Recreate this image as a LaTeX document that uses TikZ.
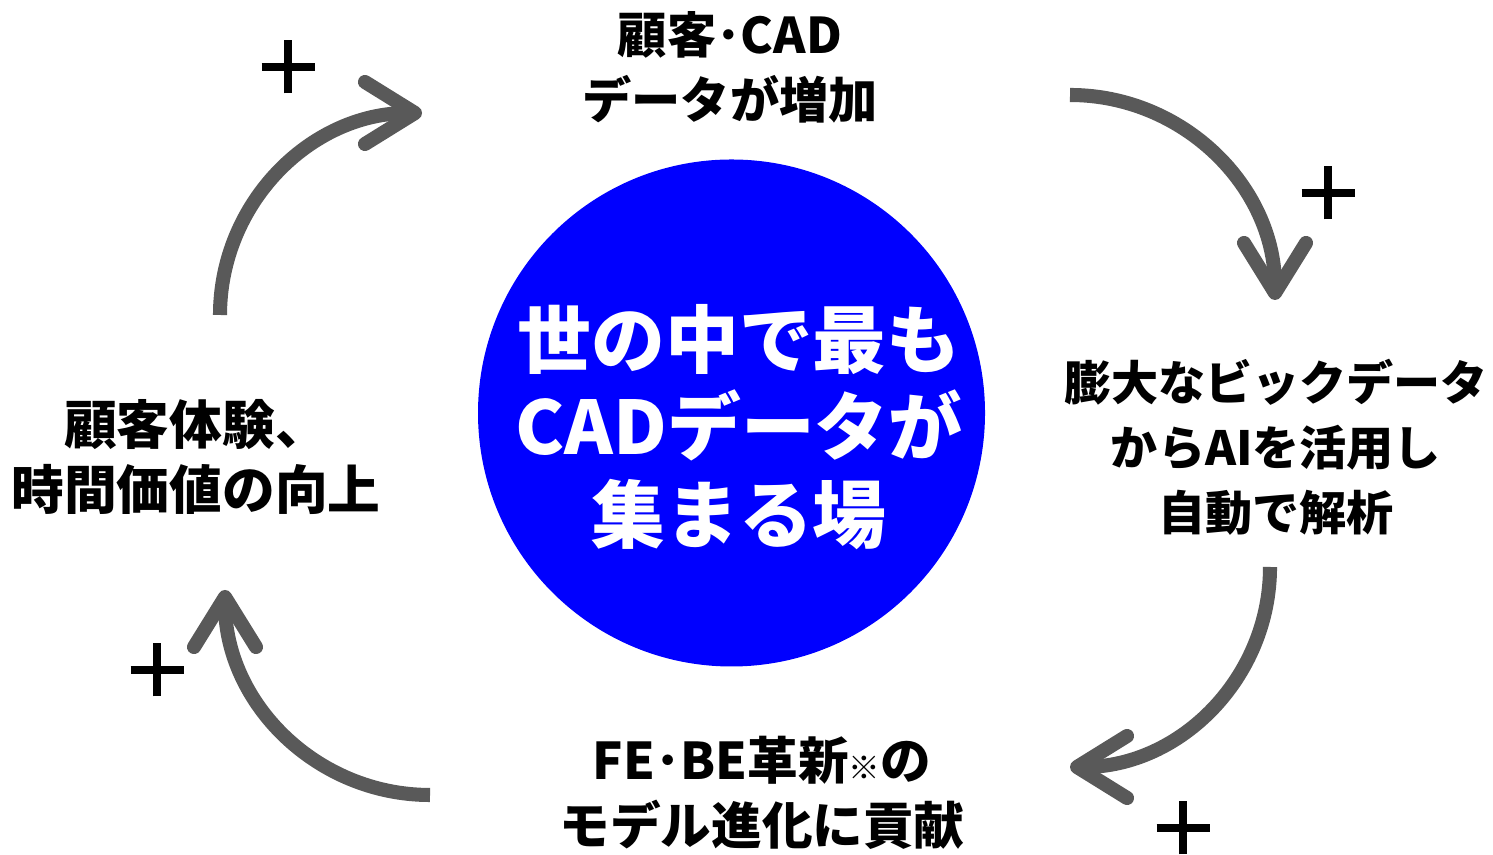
\documentclass[tikz,border=0pt]{standalone}
\usepackage{fontspec}
\newfontfamily\jpfont{Noto Sans CJK JP}
\usepackage{xcolor}
\usetikzlibrary{arrows.meta}
\definecolor{loopgray}{RGB}{89,89,89}
\definecolor{hubblue}{RGB}{0,0,255}

\begin{document}
\begin{tikzpicture}[
        cyclearrow/.style={draw=loopgray,line width=4pt,-{Straight Barb[length=0.5cm,width=0.62cm,round]}},
        plusmark/.style={draw=black,line width=2.5pt},
        looptext/.style={font=\jpfont\bfseries\fontsize{#1}{18.5pt}\selectfont,align=center,inner sep=0pt},
        looptext/.default=14pt,
        hubtext/.style={font=\jpfont\bfseries\fontsize{21pt}{25pt}\selectfont,align=center,inner sep=0pt,text=white}
    ]
        \useasboundingbox (0,0) rectangle (14.93,8.55);
        % centre
        \node[circle,fill=hubblue,minimum size=5.07cm,inner sep=0pt] (hub) at (7.315,4.42) {};
        \node[hubtext] (core) at (7.39,4.28) {世の中で最も\\CADデータが\\集まる場};
        % the four steps
        \node[looptext] (data) at (7.30,7.88) {顧客･CAD\\データが増加};
        \node[looptext=13.4pt] (analysis) at (12.76,4.08) {膨大なビックデータ\\からAIを活用し\\自動で解析};
        \node[looptext=14.4pt] (model) at (7.62,0.62) {FE･BE革新{\fontsize{9pt}{9pt}\selectfont ※}の\\モデル進化に貢献};
        \node[looptext=15pt] (value) at (1.96,3.98) {顧客体験、\\時間価値の向上};
        % arrows
        \coordinate (A1) at (2.20,5.40);
        \coordinate (A2) at (10.70,7.60);
        \coordinate (A3) at (12.70,2.88);
        \coordinate (A4) at (4.30,0.60);
        \draw[cyclearrow] (A1) arc[start angle=180,end angle=90,radius=2.02];
        \draw[cyclearrow] (A2) arc[start angle=90,end angle=0,radius=2.05];
        \draw[cyclearrow] (A3) arc[start angle=0,end angle=-90,radius=2.0];
        \draw[cyclearrow] (A4) arc[start angle=-90,end angle=-180,radius=2.05];
        % plus signs
        \coordinate (Q1) at (2.88,7.88);
        \coordinate (Q2) at (13.28,6.62);
        \coordinate (Q3) at (1.57,1.85);
        \coordinate (Q4) at (11.83,0.27);
        \draw[plusmark] (Q1) +(-.265,0) -- +(.265,0) +(0,-.265) -- +(0,.265);
        \draw[plusmark] (Q2) +(-.265,0) -- +(.265,0) +(0,-.265) -- +(0,.265);
        \draw[plusmark] (Q3) +(-.265,0) -- +(.265,0) +(0,-.265) -- +(0,.265);
        \draw[plusmark] (Q4) +(-.265,0) -- +(.265,0) +(0,-.265) -- +(0,.265);
    \end{tikzpicture}
\end{document}
